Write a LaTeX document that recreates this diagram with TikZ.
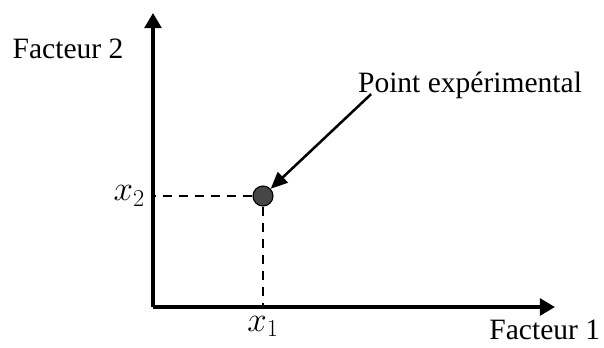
\documentclass[tikz,border=0pt]{standalone}
\usepackage{fontspec}
\setmainfont{Liberation Serif}
\usetikzlibrary{arrows.meta}
\begin{document}
\begin{tikzpicture}[
  axis/.style={line width=2.6pt, -{Triangle[length=0.38cm,width=0.42cm]}},
  guide/.style={line width=2pt, dash pattern=on 0.24cm off 0.16cm},
  pointer/.style={line width=1.8pt, -{Triangle[length=0.42cm,width=0.36cm]}},
  lab/.style={font=\fontsize{21}{25}\selectfont},
  mlab/.style={font=\fontsize{24}{28}\selectfont},
  dot/.style={circle, draw, fill=gray!55!black, line width=0.8pt, minimum size=0.5cm, inner sep=0pt}]
\useasboundingbox (0,0) rectangle (15.1,8.675);
\coordinate (O) at (3.825,1);
\coordinate (ytip) at (3.825,8.35);
\coordinate (xtip) at (13.875,1);
\draw[axis] (O) -- (ytip);
\draw[axis] (O) -- (xtip);
\node[dot] (pt) at (6.575,3.775) {};
\draw[guide] (pt) -- (pt -| O);
\draw[guide] (pt) -- (pt |- O);
\node[mlab, left] (x2) at (3.75,3.775) {$x_2$};
\node[mlab] (x1) at (6.575,0.52) {$x_1$};
\node[lab] (f2) at (1.7,7.45) {Facteur 2};
\node[lab] (f1) at (13.62,0.42) {Facteur 1};
\node[lab] (pe) at (11.75,6.55) {Point expérimental};
\draw[pointer] ([xshift=0.45cm,yshift=-0.05cm]pe.base west) -- (pt);
\end{tikzpicture}
\end{document}
